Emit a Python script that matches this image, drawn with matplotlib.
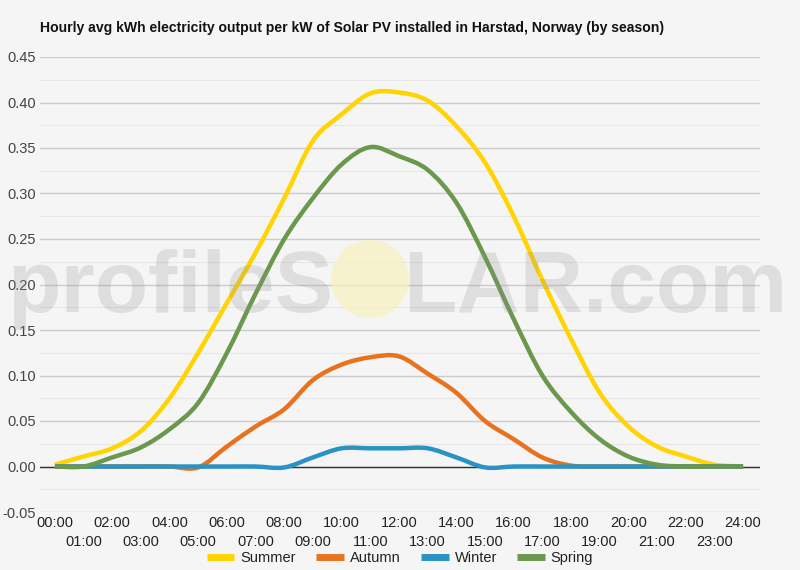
import matplotlib
matplotlib.use("Agg")
import matplotlib.pyplot as plt
from matplotlib.path import Path
from matplotlib.patches import PathPatch, Ellipse
from matplotlib.lines import Line2D
import numpy as np

plt.rcParams['font.family'] = ['Liberation Sans', 'DejaVu Sans']

hours = list(range(25))
hour_labels = [f"{h:02d}:00" for h in hours]

summer = [0.002, 0.011, 0.020, 0.039, 0.075, 0.125, 0.180, 0.235, 0.295, 0.358, 0.387, 0.410,
          0.411, 0.402, 0.374, 0.334, 0.275, 0.205, 0.140, 0.081, 0.044, 0.022, 0.011, 0.002, 0.0]
autumn = [0.0, 0.0, 0.0, 0.0, 0.0, -0.001, 0.022, 0.044, 0.063, 0.095, 0.112, 0.120,
          0.121, 0.102, 0.081, 0.050, 0.030, 0.010, 0.001, 0.0, 0.0, 0.0, 0.0, 0.0, 0.0]
winter = [0.0, 0.0, 0.0, 0.0, 0.0, 0.0, 0.0, 0.0, -0.001, 0.010, 0.020, 0.020,
          0.020, 0.020, 0.010, -0.001, 0.0, 0.0, 0.0, 0.0, 0.0, 0.0, 0.0, 0.0, 0.0]
spring = [0.0, 0.0, 0.010, 0.021, 0.041, 0.070, 0.125, 0.190, 0.250, 0.295, 0.332, 0.351,
          0.341, 0.326, 0.290, 0.230, 0.162, 0.100, 0.060, 0.030, 0.011, 0.002, 0.0, 0.0, 0.0]

series = [("Summer", summer, "#ffd400"), ("Autumn", autumn, "#e8731f"),
          ("Winter", winter, "#2b93c4"), ("Spring", spring, "#6a994e")]

title = "Hourly avg kWh electricity output per kW of Solar PV installed in Harstad, Norway (by season)"

W, H = 800, 570
bg = "#f5f5f5"
fig = plt.figure(figsize=(8, 5.7), dpi=100, facecolor=bg)
ax = fig.add_axes([40/W, 1-512/H, 720/W, (512-57)/H], facecolor=bg)

ax.set_xlim(-0.52, 24.59)
ax.set_ylim(-0.05, 0.45)

for s in ax.spines.values():
    s.set_visible(False)

major = np.arange(-0.05, 0.451, 0.05)
minor = np.arange(-0.025, 0.45, 0.05)
ax.set_yticks(major)
ax.set_yticklabels([f"{v:.2f}" for v in major])
for v in minor:
    ax.axhline(v, color="#e6e6e6", lw=0.8, zorder=0)
for v in major:
    ax.axhline(v, color="#cccccc", lw=1.0, zorder=0)
ax.axhline(0, color="#333333", lw=1.0, zorder=1)
ax.tick_params(axis='y', length=0, labelsize=10.5, labelcolor="#444444", pad=3)

even = [h for h in hours if h % 2 == 0]
odd = [h for h in hours if h % 2 == 1]
ax.set_xticks(even)
ax.set_xticklabels([hour_labels[h] for h in even])
ax.set_xticks(odd, minor=True)
ax.set_xticklabels([hour_labels[h] for h in odd], minor=True)
ax.tick_params(axis='x', which='major', length=0, labelsize=10.5, labelcolor="#222222", pad=3)
ax.tick_params(axis='x', which='minor', length=0, labelsize=10.5, labelcolor="#222222", pad=16.5)


def smooth_path(xs, ys, t=0.5):
    xs = np.asarray(xs, float); ys = np.asarray(ys, float)
    verts = [(xs[0], ys[0])]
    codes = [Path.MOVETO]
    n = len(xs)
    for i in range(n - 1):
        x0, y0 = (xs[i-1], ys[i-1]) if i > 0 else (xs[i], ys[i])
        x1, y1 = xs[i], ys[i]
        x2, y2 = xs[i+1], ys[i+1]
        x3, y3 = (xs[i+2], ys[i+2]) if i + 2 < n else (xs[i+1], ys[i+1])
        c1 = (x1 + (x2 - x0) * t / 3, y1 + (y2 - y0) * t / 3)
        c2 = (x2 - (x3 - x1) * t / 3, y2 - (y3 - y1) * t / 3)
        verts += [c1, c2, (x2, y2)]
        codes += [Path.CURVE4] * 3
    return Path(verts, codes)

handles = []
for i, (name, vals, col) in enumerate(series):
    p = PathPatch(smooth_path(hours, vals), fill=False, edgecolor=col, lw=3.2,
                  capstyle="butt", joinstyle="round", zorder=3 + i)
    ax.add_patch(p)
    handles.append(Line2D([], [], color=col, lw=5, solid_capstyle="butt"))

# watermark
fig.text(333/W, 1-312/H, "profileS", fontsize=63, fontweight="bold", color="#8f8f8f",
         alpha=0.22, ha="right", va="baseline", zorder=10)
fig.text(403/W, 1-312/H, "LAR.com", fontsize=63, fontweight="bold", color="#8f8f8f",
         alpha=0.22, ha="left", va="baseline", zorder=10)
fig.patches.append(Ellipse((370/W, 1-279/H), 78/W, 78/H, transform=fig.transFigure,
                           facecolor="#f8f1b8", edgecolor="none", alpha=0.65, zorder=10))

fig.text(40/W, 1-28/H, title, fontsize=10.1, fontweight="bold", color="#111111",
         ha="left", va="center")

leg = fig.legend(handles, [s[0] for s in series], loc="center", bbox_to_anchor=(0.5, 1-558/H),
                 ncol=4, frameon=False, fontsize=10.5, handlelength=1.9, handletextpad=0.4,
                 columnspacing=1.4, labelcolor="#222222")

fig.savefig("out.png", dpi=100, facecolor=bg)
